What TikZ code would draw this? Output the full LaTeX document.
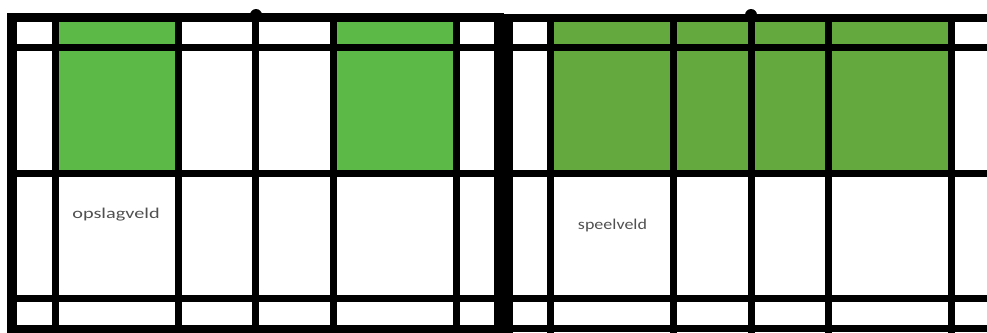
\documentclass[tikz,border=0pt]{standalone}
\usepackage{graphicx}
\usepackage{fontspec}
\setmainfont{Carlito}
\definecolor{servegreen}{RGB}{92,185,71}
\definecolor{playgreen}{RGB}{99,169,62}
\definecolor{labelgray}{RGB}{80,80,80}

\begin{document}
\begin{tikzpicture}[
    x=1pt, y=-1pt,
    outerline/.style={line width=10pt, black},
    courtline/.style={line width=7pt, black},
    post/.style={fill=black, circle, inner sep=0pt, minimum size=12pt},
    fieldlabel/.style={inner sep=0pt, text=labelgray, font=\fontsize{15}{18}\selectfont}
]
\useasboundingbox (0,0) rectangle (987,332);
\begin{scope}
\clip (0,0) rectangle (987,332);

% green areas
\fill[servegreen] (55,17) rectangle (178,173);
\fill[servegreen] (333,17) rectangle (456,173);
\fill[playgreen] (550,17) rectangle (951,173);

% left court
\draw[courtline] (55,13) -- (55,333);
\draw[courtline] (178,13) -- (178,333);
\draw[courtline] (255,13) -- (255,333);
\draw[courtline] (333,13) -- (333,333);
\draw[courtline] (456,13) -- (456,333);
\draw[courtline] (7,47) -- (503,47);
\draw[courtline] (7,173) -- (503,173);
\draw[courtline] (7,298) -- (503,298);
\draw[outerline] (12,13) -- (12,333);
\draw[outerline] (498.5,13) -- (498.5,333);
\draw[outerline, line width=9pt] (7,17.5) -- (503,17.5);
\draw[outerline, line width=9pt] (7,329) -- (503,329);

% right court
\draw[courtline] (550,14) -- (550,333);
\draw[courtline] (673,14) -- (673,333);
\draw[courtline] (751,14) -- (751,333);
\draw[courtline] (828,14) -- (828,333);
\draw[courtline] (951,14) -- (951,333);
\draw[courtline] (503,47) -- (990,47);
\draw[courtline] (503,173) -- (990,173);
\draw[courtline] (503,298) -- (990,298);
\draw[outerline] (508,14) -- (508,333);
\draw[courtline, line width=8pt] (503,18) -- (990,18);
\draw[courtline] (503,328.5) -- (990,328.5);
\end{scope}

% net posts
\node[post] (postleft) at (256,15) {};
\node[post] (postright) at (751,15) {};

% labels
\node[fieldlabel] (serve) at (116,215) {\scalebox{1.35}[1]{opslagveld}};
\node[fieldlabel] (play) at (612.5,225.5) {\scalebox{1.2}[1]{speelveld}};
\end{tikzpicture}
\end{document}
